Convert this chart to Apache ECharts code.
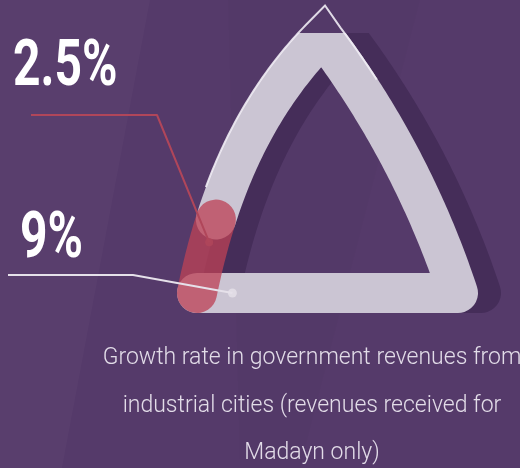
<!DOCTYPE html>
<html>
<head>
<meta charset="utf-8">
<script src="https://cdn.jsdelivr.net/npm/echarts@6/dist/echarts.min.js"></script>
<style>
  html, body { margin: 0; padding: 0; background: #553a6a; }
  #chart { width: 520px; height: 468px; }
</style>
</head>
<body>
<div id="chart"></div>
<script>
// Shares called out beside the track (percent)
const shareLabels = ['2.5%', '9%'];
const shareValues = [2.5, 9];
// Part of the triangular track drawn in red, as a percent of its length
const filledShare = 9;
// Caption under the triangle
const captionLines = [
  'Growth rate in government revenues from',
  'industrial cities (revenues received for',
  'Madayn only)'
];

// ---- layout: the track is a rounded triangle traced clockwise from its lower-left corner
const leftSide = [[197, 293], [217, 195], [253, 107], [323, 36]];   // cubic curve
const rightSide = [[323, 36], [411.7, 153.3], [458, 293]];          // quadratic curve
const TRACK_W = 40;
const SHADOW_DX = 23;
const CLIP_TOP = 33;   // the thick track is cut flat at this height
// where each callout line touches the track (fraction of track length) and its elbow
const calloutAnchor = [0.062, 0.958];
const calloutElbow = [[[31, 115], [157, 115]], [[8, 275], [133, 275]]];
const calloutColor = ['#b0465a', '#e6e1ea'];

function cubicAt(p, t) {
  const a = (1 - t) ** 3, b = 3 * t * (1 - t) ** 2, c = 3 * t * t * (1 - t), d = t ** 3;
  return [a * p[0][0] + b * p[1][0] + c * p[2][0] + d * p[3][0],
          a * p[0][1] + b * p[1][1] + c * p[2][1] + d * p[3][1]];
}
function quadAt(p, t) {
  const a = (1 - t) ** 2, b = 2 * t * (1 - t), c = t * t;
  return [a * p[0][0] + b * p[1][0] + c * p[2][0], a * p[0][1] + b * p[1][1] + c * p[2][1]];
}
const N = 80;
const path = [];
for (let i = 0; i <= N; i++) path.push(cubicAt(leftSide, i / N));
for (let i = 1; i <= N; i++) path.push(quadAt(rightSide, i / N));
const bStart = rightSide[2], bEnd = leftSide[0];
for (let i = 1; i <= N; i++) {
  const t = i / N;
  path.push([bStart[0] + (bEnd[0] - bStart[0]) * t, bStart[1] + (bEnd[1] - bStart[1]) * t]);
}
const cum = [0];
for (let i = 1; i < path.length; i++) {
  cum.push(cum[i - 1] + Math.hypot(path[i][0] - path[i - 1][0], path[i][1] - path[i - 1][1]));
}
const total = cum[cum.length - 1];

function pointAt(f) {
  const L = f * total;
  for (let i = 1; i < path.length; i++) {
    if (cum[i] >= L) {
      const r = (L - cum[i - 1]) / (cum[i] - cum[i - 1] || 1);
      return [path[i - 1][0] + (path[i][0] - path[i - 1][0]) * r,
              path[i - 1][1] + (path[i][1] - path[i - 1][1]) * r];
    }
  }
  return path[path.length - 1].slice();
}
function slice(f0, f1) {
  const out = [pointAt(f0)];
  const L0 = f0 * total, L1 = f1 * total;
  for (let i = 0; i < path.length; i++) if (cum[i] > L0 && cum[i] < L1) out.push(path[i]);
  out.push(pointAt(f1));
  return out;
}

// outer edge of the track along the upper sides, meeting in a sharp tip
function offsetPoint(pt, dir, d) {
  const len = Math.hypot(dir[0], dir[1]);
  return [pt[0] + dir[1] / len * d, pt[1] - dir[0] / len * d];
}
const half = TRACK_W / 2;
const edge = [];
for (let i = Math.round(N * 0.35); i < N; i++) {
  const t = i / N, p = cubicAt(leftSide, t), q = cubicAt(leftSide, t + 0.001);
  edge.push(offsetPoint(p, [q[0] - p[0], q[1] - p[1]], half));
}
(function tip() {
  const A = leftSide[3];
  const d1 = [A[0] - leftSide[2][0], A[1] - leftSide[2][1]];
  const d2 = [rightSide[1][0] - A[0], rightSide[1][1] - A[1]];
  const p1 = offsetPoint(A, d1, half), p2 = offsetPoint(A, d2, half);
  const det = d1[0] * (-d2[1]) - d1[1] * (-d2[0]);
  const s = ((p2[0] - p1[0]) * (-d2[1]) - (p2[1] - p1[1]) * (-d2[0])) / det;
  edge.push([p1[0] + s * d1[0], p1[1] + s * d1[1]]);
})();
for (let i = 1; i <= Math.round(N * 0.22); i++) {
  const t = i / N, p = quadAt(rightSide, t), q = quadAt(rightSide, t + 0.001);
  edge.push(offsetPoint(p, [q[0] - p[0], q[1] - p[1]], half - 1));
}

const fill = filledShare / 100;
const loop = path.concat([path[1]]);

// the line clip rectangle grows by half the line width, so the grid sits that much lower
const gridTop = CLIP_TOP + TRACK_W / 2;

const trackLine = (data, color, z) => ({
  type: 'line', xAxisIndex: 1, yAxisIndex: 1, data, symbol: 'none', silent: true,
  clip: true, z, animation: false,
  lineStyle: { width: TRACK_W, color, cap: 'round', join: 'round' }
});

const series = [
  trackLine(loop.map(p => [p[0] + SHADOW_DX, p[1]]), '#452d59', 1),
  trackLine(slice(fill, 1), '#cbc5d3', 2),
  trackLine(slice(0, fill), 'rgba(188,66,85,0.76)', 3),
  {
    type: 'line', xAxisIndex: 0, yAxisIndex: 0, data: edge, symbol: 'none', silent: true,
    z: 4, animation: false,
    lineStyle: { width: 2, color: 'rgba(240,236,244,0.9)', join: 'miter' }
  }
];
shareLabels.forEach((name, k) => {
  const anchor = pointAt(calloutAnchor[k]);
  series.push({
    type: 'line', name, xAxisIndex: 0, yAxisIndex: 0, symbol: 'none', silent: true,
    z: 5, animation: false,
    data: calloutElbow[k].concat([anchor]),
    lineStyle: { width: 2, color: calloutColor[k] }
  });
  series.push({
    type: 'scatter', xAxisIndex: 0, yAxisIndex: 0, silent: true, z: 6, animation: false,
    data: [anchor], symbolSize: k === 0 ? 8 : 9,
    itemStyle: { color: calloutColor[k] }
  });
});

const graphic = [
  { type: 'polygon', z: -10, silent: true,
    shape: { points: [[0, 0], [150, 0], [62, 468], [0, 468]] },
    style: { fill: 'rgba(255,255,255,0.025)' } },
  { type: 'polygon', z: -10, silent: true,
    shape: { points: [[228, 0], [420, 0], [300, 468], [240, 468]] },
    style: { fill: 'rgba(0,0,0,0.015)' } }
];
const numPos = [[13, 69], [20, 241]];
shareLabels.forEach((txt, k) => {
  graphic.push({
    type: 'text', z: 100, silent: true, x: numPos[k][0], y: numPos[k][1],
    scaleX: 0.75, originX: 0,
    style: {
      text: txt, fill: '#ffffff', align: 'left', verticalAlign: 'middle',
      font: '700 64px Roboto, sans-serif'
    }
  });
});
const capY = [358, 406, 453];
captionLines.forEach((line, k) => {
  graphic.push({
    type: 'text', z: 100, silent: true, x: 312, y: capY[k],
    style: {
      text: line, fill: '#e2dce8', align: 'center', verticalAlign: 'middle',
      font: '300 23px Roboto, sans-serif'
    }
  });
});

const chart = echarts.init(document.getElementById('chart'), null, { renderer: 'canvas' });
chart.setOption({
  backgroundColor: '#553a6a',
  animation: false,
  grid: [
    { left: 0, right: 0, top: 0, bottom: 0 },
    { left: 0, right: 0, top: gridTop, bottom: 0 }
  ],
  xAxis: [
    { type: 'value', gridIndex: 0, min: 0, max: 520, show: false },
    { type: 'value', gridIndex: 1, min: 0, max: 520, show: false }
  ],
  yAxis: [
    { type: 'value', gridIndex: 0, min: 0, max: 468, inverse: true, show: false },
    { type: 'value', gridIndex: 1, min: gridTop, max: 468, inverse: true, show: false }
  ],
  graphic,
  series
});
</script>
</body>
</html>
